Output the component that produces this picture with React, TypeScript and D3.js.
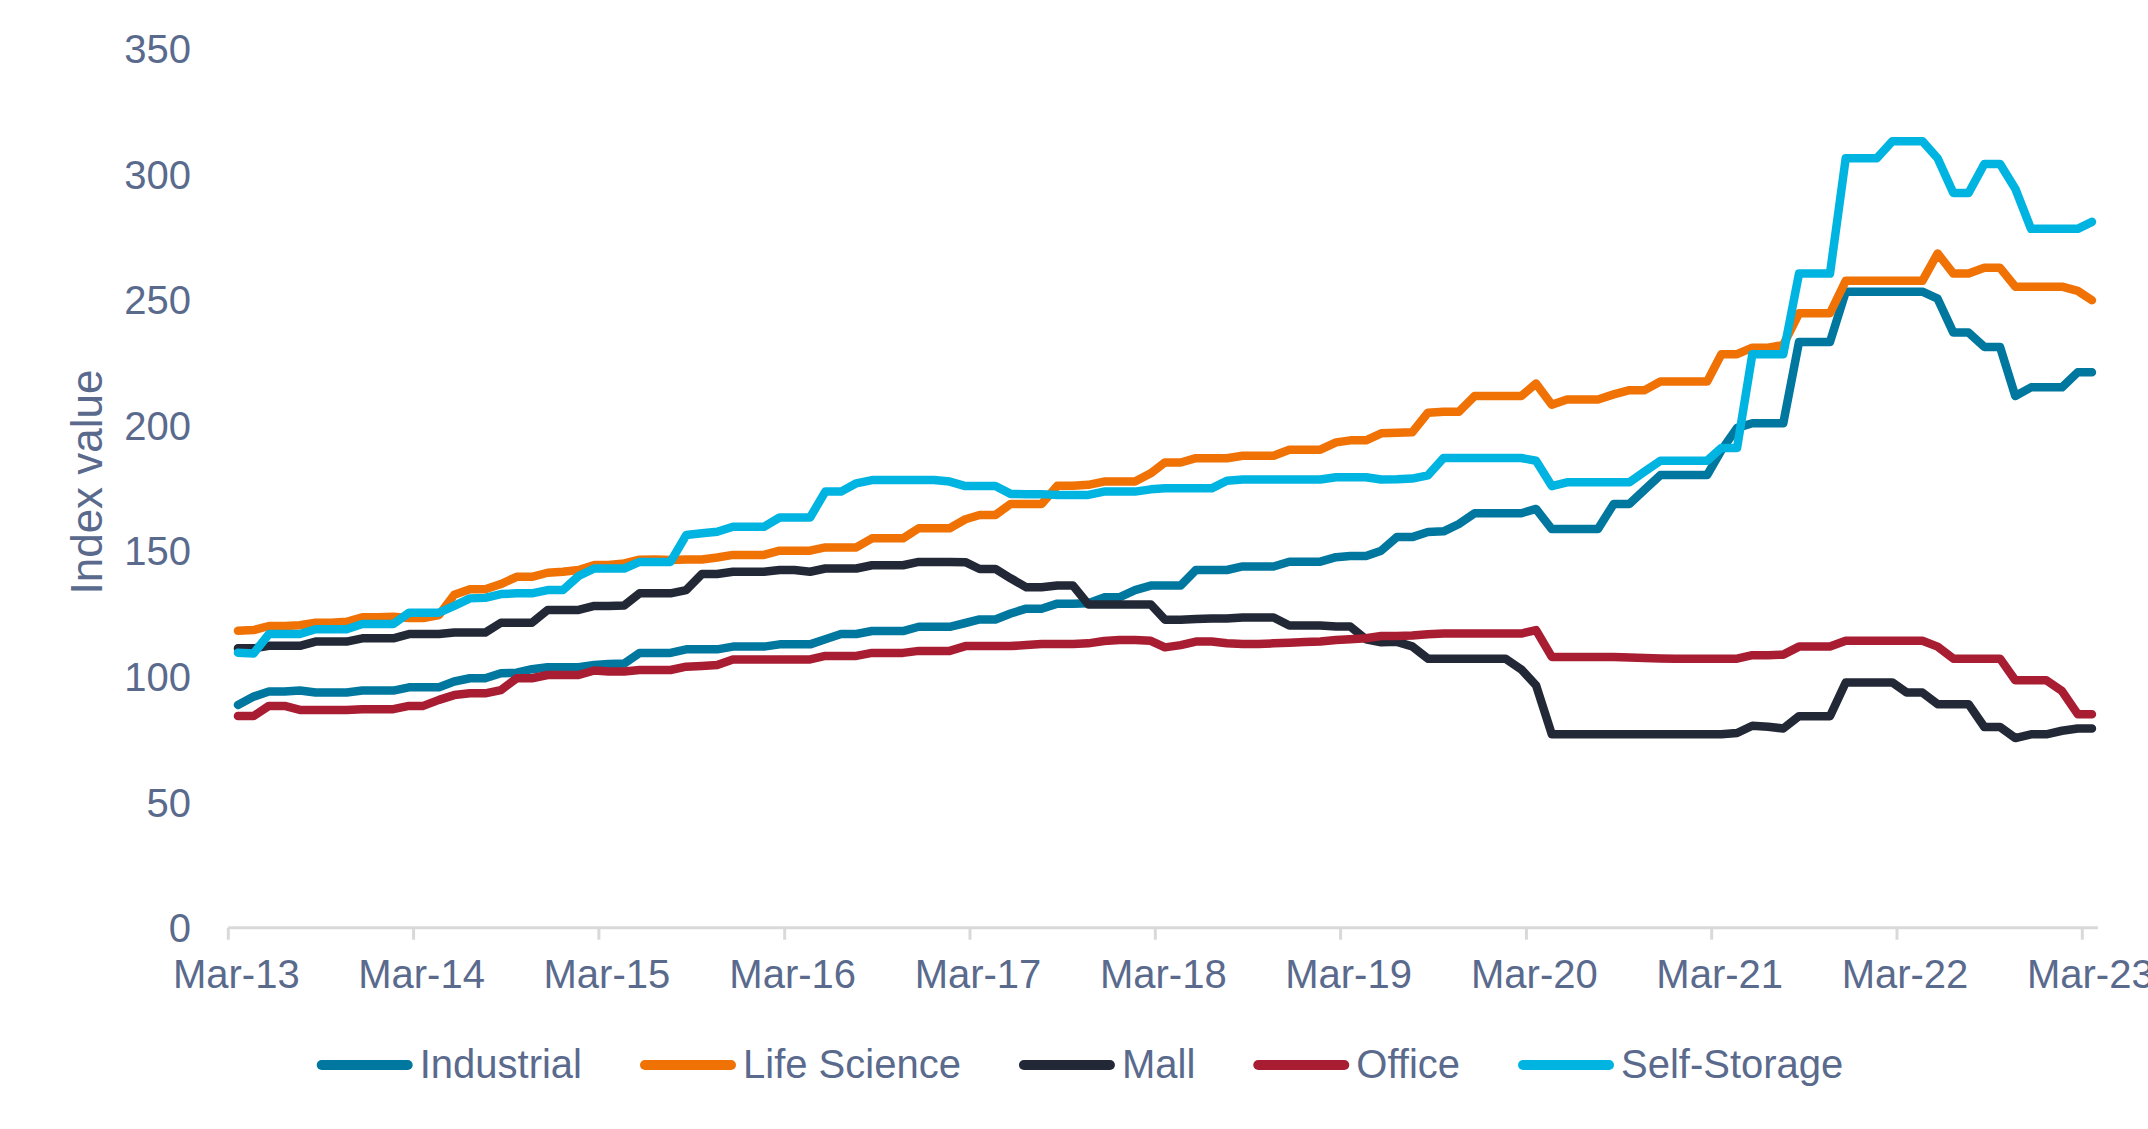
import * as d3 from 'd3';
import React, {useEffect, useRef} from 'react';

// series order = drawing order (later series sit on top)
const seriesNames = ['Industrial', 'Life Science', 'Mall', 'Office', 'Self-Storage'];
const seriesColors = ['#00779e', '#f07104', '#232837', '#a81d31', '#00b4e1'];

const xTickLabels = ['Mar-13', 'Mar-14', 'Mar-15', 'Mar-16', 'Mar-17', 'Mar-18', 'Mar-19', 'Mar-20', 'Mar-21', 'Mar-22', 'Mar-23'];
const yTicks = [0, 50, 100, 150, 200, 250, 300, 350];

// monthly index values, Mar-13 .. Mar-23
const industrial = [
  88.7, 92.0, 94.0, 94.0, 94.4, 93.6, 93.6, 93.6, 94.4, 94.4, 94.4, 95.7,
  95.7, 95.7, 98.0, 99.3, 99.3, 101.3, 101.5, 102.9, 103.7, 103.7, 103.7, 104.6,
  105.0, 105.2, 109.4, 109.4, 109.4, 110.8, 110.8, 110.8, 111.9, 111.9, 111.9, 112.8,
  112.8, 112.8, 114.8, 116.9, 116.9, 118.1, 118.1, 118.1, 119.8, 119.8, 119.8, 121.3,
  122.7, 122.7, 125.1, 127.0, 127.0, 129.0, 129.0, 129.2, 131.5, 131.5, 134.4, 136.2,
  136.2, 136.2, 142.4, 142.4, 142.4, 143.8, 143.8, 143.8, 145.7, 145.7, 145.7, 147.5,
  148.0, 148.0, 150.1, 155.5, 155.5, 157.5, 157.8, 160.7, 165.0, 165.0, 165.0, 165.0,
  166.7, 158.7, 158.7, 158.7, 158.7, 168.7, 168.7, 174.4, 180.2, 180.2, 180.2, 180.2,
  190.0, 199.0, 200.8, 200.8, 200.8, 233.2, 233.2, 233.2, 253.2, 253.2, 253.2, 253.2,
  253.2, 253.2, 250.4, 236.9, 236.9, 231.2, 231.2, 211.7, 215.1, 215.1, 215.1, 221.1,
  221.1
];

const lifeScience = [
  118.2, 118.5, 120.1, 120.1, 120.4, 121.4, 121.4, 121.8, 123.6, 123.6, 123.8, 123.3,
  123.3, 124.5, 132.5, 134.7, 134.7, 136.8, 139.7, 139.7, 141.3, 141.7, 142.4, 144.4,
  144.4, 145.0, 146.5, 146.6, 146.4, 146.6, 146.6, 147.4, 148.4, 148.4, 148.4, 150.1,
  150.1, 150.1, 151.4, 151.4, 151.4, 155.0, 155.0, 155.0, 159.0, 159.0, 159.0, 162.6,
  164.3, 164.3, 168.7, 168.7, 168.7, 175.9, 175.9, 176.3, 177.6, 177.6, 177.6, 180.9,
  185.2, 185.2, 186.9, 186.9, 186.9, 187.9, 187.9, 187.9, 190.3, 190.3, 190.3, 193.2,
  194.0, 194.0, 196.8, 197.0, 197.2, 205.0, 205.4, 205.4, 211.7, 211.7, 211.7, 211.7,
  216.6, 208.2, 210.3, 210.3, 210.3, 212.3, 214.0, 214.0, 217.4, 217.4, 217.4, 217.4,
  228.3, 228.3, 230.9, 230.9, 232.0, 244.6, 244.6, 244.6, 257.5, 257.5, 257.5, 257.5,
  257.5, 257.5, 268.4, 260.4, 260.4, 262.7, 262.7, 255.2, 255.2, 255.2, 255.2, 253.5,
  249.8
];

const mall = [
  111.2, 111.2, 112.2, 112.2, 112.2, 113.9, 113.9, 113.9, 115.2, 115.2, 115.2, 116.9,
  116.9, 116.9, 117.5, 117.5, 117.5, 121.4, 121.4, 121.4, 126.5, 126.5, 126.5, 128.1,
  128.1, 128.3, 133.1, 133.1, 133.1, 134.4, 140.8, 140.8, 141.7, 141.7, 141.7, 142.4,
  142.4, 141.7, 143.0, 143.0, 143.0, 144.3, 144.3, 144.3, 145.6, 145.6, 145.6, 145.5,
  142.8, 142.8, 139.1, 135.5, 135.5, 136.2, 136.2, 128.7, 128.7, 128.7, 128.7, 128.7,
  122.6, 122.6, 122.9, 123.1, 123.1, 123.5, 123.5, 123.5, 120.3, 120.3, 120.3, 119.9,
  119.9, 114.8, 113.6, 113.8, 112.0, 107.1, 107.1, 107.1, 107.1, 107.1, 107.1, 102.8,
  96.5, 77.0, 77.0, 77.0, 77.0, 77.0, 77.0, 77.0, 77.0, 77.0, 77.0, 77.0,
  77.0, 77.5, 80.4, 80.0, 79.3, 84.2, 84.2, 84.2, 97.6, 97.6, 97.6, 97.6,
  93.6, 93.6, 89.0, 89.0, 89.0, 79.9, 79.9, 75.5, 77.0, 77.0, 78.4, 79.3,
  79.3
];

const office = [
  84.3, 84.3, 88.3, 88.3, 86.7, 86.7, 86.7, 86.7, 87.0, 87.0, 87.0, 88.3,
  88.3, 90.7, 92.6, 93.3, 93.3, 94.6, 99.3, 99.3, 100.6, 100.6, 100.6, 102.4,
  102.0, 102.0, 102.6, 102.6, 102.6, 103.9, 104.2, 104.6, 106.8, 106.8, 106.8, 106.8,
  106.8, 106.8, 108.2, 108.2, 108.2, 109.4, 109.4, 109.4, 110.2, 110.2, 110.2, 112.1,
  112.1, 112.1, 112.1, 112.5, 112.9, 112.9, 112.9, 113.2, 114.1, 114.5, 114.5, 114.2,
  111.6, 112.5, 113.9, 113.9, 113.2, 112.9, 112.9, 113.2, 113.4, 113.7, 113.9, 114.5,
  114.8, 115.2, 116.1, 116.1, 116.3, 116.8, 117.1, 117.1, 117.1, 117.1, 117.1, 117.1,
  118.5, 107.8, 107.8, 107.8, 107.8, 107.8, 107.6, 107.4, 107.2, 107.1, 107.1, 107.1,
  107.1, 107.1, 108.5, 108.5, 108.7, 111.9, 111.9, 111.9, 114.2, 114.2, 114.2, 114.2,
  114.2, 114.2, 111.9, 107.1, 107.1, 107.1, 107.1, 98.5, 98.5, 98.5, 94.2, 85.0,
  85.0
];

const selfStorage = [
  109.5, 109.2, 116.9, 116.9, 116.9, 118.8, 118.8, 118.8, 120.9, 120.9, 120.9, 125.4,
  125.4, 125.4, 128.1, 131.1, 131.3, 132.8, 133.1, 133.1, 134.4, 134.4, 140.0, 143.0,
  143.0, 143.0, 145.6, 145.6, 145.6, 156.3, 157.0, 157.6, 159.6, 159.6, 159.6, 163.3,
  163.3, 163.3, 173.6, 173.6, 176.9, 178.2, 178.2, 178.2, 178.2, 178.2, 177.6, 175.8,
  175.8, 175.8, 172.7, 172.6, 172.6, 172.3, 172.3, 172.3, 173.6, 173.6, 173.6, 174.5,
  174.9, 174.9, 174.9, 174.9, 177.9, 178.4, 178.4, 178.4, 178.4, 178.4, 178.4, 179.3,
  179.3, 179.3, 178.4, 178.5, 178.8, 180.1, 187.0, 187.0, 187.0, 187.0, 187.0, 187.0,
  185.9, 175.8, 177.3, 177.3, 177.3, 177.3, 177.3, 181.6, 185.9, 185.9, 185.9, 185.9,
  191.0, 191.0, 228.3, 228.3, 228.3, 260.4, 260.4, 260.4, 306.3, 306.3, 306.3, 313.1,
  313.1, 313.1, 306.3, 292.5, 292.5, 304.0, 304.0, 294.2, 278.2, 278.2, 278.2, 278.2,
  281.0
];

const seriesValues = [industrial, lifeScience, mall, office, selfStorage];

const width = 2148;
const height = 1129;
const textColor = '#5a6a8d';
const axisColor = '#d9d9d9';
const font = '"Liberation Sans", Arial, sans-serif';

const App: React.FC = () => {
  const chartRef = useRef<SVGSVGElement>(null);

  useEffect(() => {
    const svg = d3.select(chartRef.current);
    svg.selectAll('*').remove();

    const parseTick = d3.timeParse('%b-%y');
    const tickDates = xTickLabels.map(l => parseTick(l) as Date);
    // each monthly point sits a little after the start of its month
    const pointDates = industrial.map((_, i) => new Date(2013, 2 + i, 20));

    const x = d3.scaleTime()
      .domain([tickDates[0], tickDates[tickDates.length - 1]])
      .range([228.3, 2082.3]);
    const y = d3.scaleLinear()
      .domain([0, 350])
      .range([927.7, 48.5]);

    // y tick labels
    svg.append('g')
      .selectAll('text')
      .data(yTicks)
      .enter()
      .append('text')
      .attr('x', 191)
      .attr('y', d => y(d))
      .attr('dy', '0.36em')
      .attr('text-anchor', 'end')
      .attr('font-family', font)
      .attr('font-size', 40)
      .attr('fill', textColor)
      .text(d => d);

    svg.append('text')
      .attr('transform', `translate(102, 482) rotate(-90)`)
      .attr('text-anchor', 'middle')
      .attr('font-family', font)
      .attr('font-size', 44)
      .attr('fill', textColor)
      .text('Index value');

    // x axis
    const axis = svg.append('g');
    axis.append('line')
      .attr('x1', x(tickDates[0]))
      .attr('x2', x(d3.timeMonth.offset(tickDates[tickDates.length - 1], 1)))
      .attr('y1', y(0))
      .attr('y2', y(0))
      .attr('stroke', axisColor)
      .attr('stroke-width', 3);
    axis.selectAll('.tick')
      .data(tickDates)
      .enter()
      .append('line')
      .attr('x1', d => x(d))
      .attr('x2', d => x(d))
      .attr('y1', y(0))
      .attr('y2', y(0) + 12)
      .attr('stroke', axisColor)
      .attr('stroke-width', 3);
    axis.selectAll('.label')
      .data(tickDates)
      .enter()
      .append('text')
      .attr('x', d => x(d) + 8)
      .attr('y', 988)
      .attr('text-anchor', 'middle')
      .attr('font-family', font)
      .attr('font-size', 40)
      .attr('fill', textColor)
      .text((_, i) => xTickLabels[i]);

    // lines
    const line = d3.line<number>()
      .x((_, i) => x(pointDates[i]))
      .y(d => y(d));

    svg.append('g')
      .selectAll('path')
      .data(seriesValues)
      .enter()
      .append('path')
      .attr('d', d => line(d))
      .attr('fill', 'none')
      .attr('stroke', (_, i) => seriesColors[i])
      .attr('stroke-width', 8.5)
      .attr('stroke-linejoin', 'round')
      .attr('stroke-linecap', 'round');

    // legend
    const legend = svg.append('g');
    let cursor = 316.7;
    seriesNames.forEach((name, i) => {
      legend.append('line')
        .attr('x1', cursor + 5)
        .attr('x2', cursor + 91)
        .attr('y1', 1065)
        .attr('y2', 1065)
        .attr('stroke', seriesColors[i])
        .attr('stroke-width', 10)
        .attr('stroke-linecap', 'round');
      const label = legend.append('text')
        .attr('x', cursor + 103)
        .attr('y', 1078)
        .attr('font-family', font)
        .attr('font-size', 40)
        .attr('fill', textColor)
        .text(name);
      const w = (label.node() as SVGTextElement).getComputedTextLength();
      cursor += 103 + w + 58;
    });
  }, []);

  return (
    <svg
      ref={chartRef}
      width={width}
      height={height}
      style={{position: 'absolute', left: 0, top: 0, background: '#fff'}}
    />
  );
};

export default App;
